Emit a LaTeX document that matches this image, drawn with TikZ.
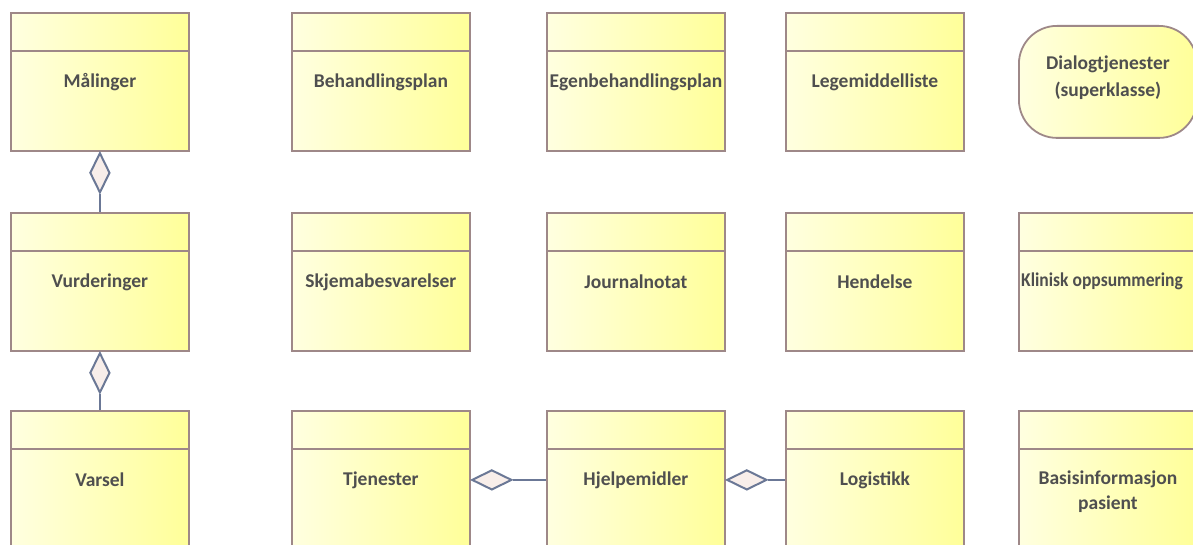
\documentclass[tikz,border=0pt]{standalone}
\usepackage{fontspec}
\setmainfont{Carlito}
\usetikzlibrary{shapes.geometric}
\definecolor{boxedge}{HTML}{9E8888}
\definecolor{boxleft}{HTML}{FFFFE0}
\definecolor{boxright}{HTML}{FFFF99}
\definecolor{txt}{HTML}{4F4F4F}
\definecolor{dline}{HTML}{6B7896}
\definecolor{dfill}{HTML}{F8EEEA}
\tikzset{
  classbox/.style={rectangle, draw=boxedge, line width=1.8pt, left color=boxleft, right color=boxright,
    minimum width=178pt, minimum height=138pt, inner sep=0pt, anchor=north west,
    font=\bfseries\fontsize{19.5}{23}\selectfont, text=txt, align=center},
  dialogbox/.style={rectangle, rounded corners=38pt, draw=boxedge, line width=1.8pt, left color=boxleft, right color=boxright,
    minimum width=178pt, minimum height=112pt, inner sep=0pt, anchor=north west},
  hdr/.style={draw=boxedge, line width=1.8pt},
  vdiam/.style={diamond, draw=dline, fill=dfill, line width=2pt, minimum width=20pt, minimum height=40pt, inner sep=0pt},
  hdiam/.style={diamond, draw=dline, fill=dfill, line width=2pt, minimum width=40pt, minimum height=20pt, inner sep=0pt},
  conn/.style={draw=dline, line width=2pt},
  lbl/.style={font=\bfseries\fontsize{19.5}{26}\selectfont, text=txt, align=center, inner sep=0pt}
}
\begin{document}
\begin{tikzpicture}[x=1pt,y=-1pt]
\useasboundingbox (0,0) rectangle (1193,545);
\clip (0,0) rectangle (1193,545);
\fill[white] (0,0) rectangle (1193,545);
% row 1
\node[classbox] (maal) at (10,12) {Målinger};
\node[classbox] (beh) at (291,12) {Behandlingsplan};
\node[classbox] (egen) at (546,12) {Egenbehandlingsplan};
\node[classbox] (lege) at (785,12) {Legemiddelliste};
\node[dialogbox] (dial) at (1018,25) {};
\node[lbl, font=\bfseries\fontsize{19.5}{27}\selectfont] (dialtxt) at ([yshift=4pt]dial.center) {Dialogtjenester\\(superklasse)};
% row 2
\node[classbox] (vurd) at (10,212) {Vurderinger};
\node[classbox] (skj) at (291,212) {Skjemabesvarelser};
\node[classbox] (jour) at (546,212) {Journalnotat};
\node[classbox] (hend) at (785,212) {Hendelse};
\node[classbox] (klin) at (1018,212) {};
\node[lbl, anchor=west] (klintxt) at (1021,281) {\scalebox{0.9}[1]{Klinisk oppsummering}};
% row 3
\node[classbox] (vars) at (10,410) {Varsel};
\node[classbox] (tjen) at (291,410) {Tjenester};
\node[classbox] (hjel) at (546,410) {Hjelpemidler};
\node[classbox] (logi) at (785,410) {Logistikk};
\node[classbox] (basi) at (1018,410) {};
\node[lbl, font=\bfseries\fontsize{19.5}{25}\selectfont] (basitxt) at ([yshift=-12pt]basi.center) {Basisinformasjon\\pasient};
% header lines
\foreach \n in {maal,beh,egen,lege,vurd,skj,jour,hend,klin,vars,tjen,hjel,logi,basi}{
  \draw[hdr] ([yshift=-39pt]\n.north west) -- ([yshift=-39pt]\n.north east);
}
% aggregations
\node[vdiam, anchor=north] (d1) at (maal.south) {};
\draw[conn] (d1.south) -- (vurd.north);
\node[vdiam, anchor=north] (d2) at (vurd.south) {};
\draw[conn] (d2.south) -- (vars.north);
\node[hdiam, anchor=west] (d3) at (tjen.east) {};
\draw[conn] (d3.east) -- (hjel.west);
\node[hdiam, anchor=west] (d4) at (hjel.east) {};
\draw[conn] (d4.east) -- (logi.west);
\end{tikzpicture}
\end{document}
